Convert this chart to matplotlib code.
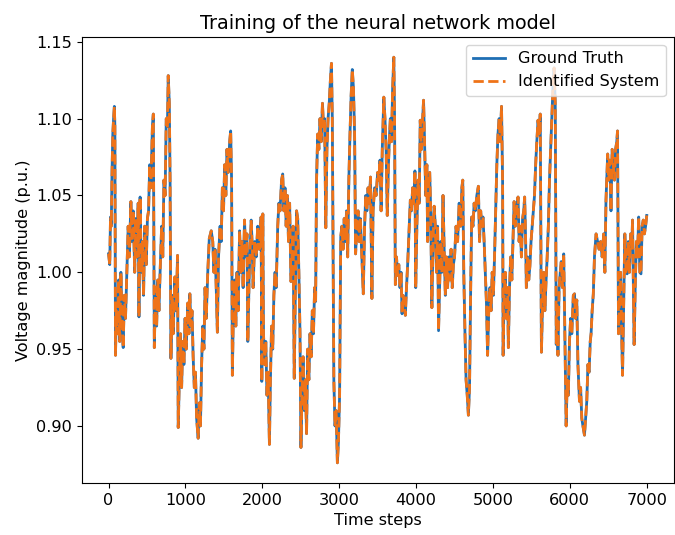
import numpy as np
import matplotlib
matplotlib.use("Agg")
import matplotlib.pyplot as plt

# Time steps and voltage magnitude (p.u.)
time_steps = [
    0, 15, 25, 35, 45, 55, 65, 75, 82, 90, 100, 115, 130, 145, 160, 175, 190, 205, 220, 240,
    255, 270, 290, 305, 320, 340, 355, 370, 385, 395, 410, 425, 440, 455, 470, 490, 505, 520, 535, 550,
    570, 582, 595, 610, 625, 640, 655, 670, 690, 705, 720, 735, 750, 765, 776, 790, 800, 811, 825, 840,
    862, 880, 897, 906, 920, 935, 950, 965, 980, 995, 1010, 1030, 1045, 1057, 1070, 1085, 1100, 1115, 1130, 1145,
    1165, 1180, 1195, 1210, 1225, 1240, 1255, 1270, 1290, 1310, 1335, 1355, 1370, 1385, 1400, 1415, 1430, 1450, 1465, 1480,
    1495, 1510, 1525, 1540, 1555, 1575, 1588, 1600, 1610, 1625, 1640, 1655, 1670, 1685, 1704, 1720, 1735, 1750, 1768, 1785,
    1800, 1811, 1830, 1855, 1870, 1880, 1900, 1920, 1940, 1960, 1984, 1993, 2006, 2015, 2030, 2045, 2060, 2075, 2092, 2105,
    2120, 2135, 2150, 2165, 2180, 2200, 2215, 2230, 2250, 2265, 2280, 2295, 2310, 2325, 2340, 2355, 2372, 2385, 2400, 2415,
    2430, 2445, 2460, 2475, 2490, 2502, 2515, 2530, 2545, 2560, 2575, 2590, 2605, 2620, 2635, 2650, 2665, 2680, 2693, 2705,
    2720, 2735, 2750, 2765, 2782, 2795, 2810, 2825, 2840, 2855, 2870, 2885, 2899, 2910, 2930, 2945, 2960, 2976, 2990, 3005,
    3020, 3035, 3050, 3065, 3080, 3095, 3110, 3125, 3140, 3155, 3170, 3185, 3200, 3213, 3230, 3245, 3260, 3275, 3290, 3313,
    3330, 3345, 3360, 3375, 3390, 3407, 3425, 3440, 3460, 3480, 3500, 3515, 3530, 3545, 3560, 3580, 3595, 3610, 3625, 3640,
    3655, 3665, 3680, 3695, 3710, 3720, 3730, 3745, 3760, 3775, 3790, 3805, 3817, 3830, 3845, 3860, 3875, 3890, 3910, 3925,
    3940, 3955, 3970, 3985, 3995, 4010, 4025, 4040, 4054, 4070, 4085, 4097, 4110, 4125, 4140, 4150, 4165, 4177, 4190, 4205,
    4220, 4235, 4250, 4265, 4280, 4292, 4305, 4320, 4335, 4350, 4365, 4380, 4395, 4410, 4425, 4440, 4455, 4470, 4485, 4500,
    4520, 4540, 4560, 4580, 4595, 4607, 4620, 4635, 4650, 4665, 4680, 4695, 4710, 4723, 4740, 4755, 4770, 4790, 4810, 4825,
    4840, 4855, 4870, 4885, 4900, 4915, 4930, 4945, 4960, 4975, 4990, 5005, 5020, 5035, 5050, 5065, 5080, 5095, 5111, 5125,
    5132, 5145, 5160, 5175, 5190, 5200, 5215, 5230, 5245, 5260, 5275, 5290, 5305, 5326, 5340, 5355, 5370, 5385, 5400, 5412,
    5425, 5434, 5450, 5465, 5480, 5495, 5510, 5525, 5540, 5555, 5570, 5586, 5600, 5615, 5630, 5645, 5660, 5675, 5690, 5705,
    5720, 5735, 5750, 5765, 5780, 5795, 5810, 5823, 5835, 5845, 5860, 5875, 5888, 5905, 5920, 5935, 5952, 5965, 5980, 5995,
    6010, 6025, 6045, 6060, 6075, 6090, 6105, 6125, 6140, 6155, 6170, 6190, 6205, 6220, 6235, 6250, 6265, 6276, 6290, 6305,
    6320, 6341, 6360, 6380, 6400, 6420, 6440, 6455, 6470, 6492, 6505, 6520, 6535, 6550, 6565, 6580, 6595, 6610, 6620, 6633,
    6645, 6660, 6672, 6685, 6700, 6715, 6730, 6745, 6760, 6775, 6790, 6805, 6815, 6836, 6850, 6865, 6880, 6895, 6910, 6925,
    6940, 6955, 6970, 6985, 7000,
]

ground_truth = [
    1.012, 1.005, 1.036, 1.030, 1.066, 1.090, 1.100, 1.108, 1.095, 0.946, 0.975, 0.960, 0.995, 0.955, 1.000, 0.970, 0.951, 0.985, 0.970, 1.005,
    1.030, 1.010, 1.046, 1.020, 1.040, 1.000, 1.035, 1.010, 1.045, 0.971, 1.049, 1.000, 1.020, 0.985, 1.030, 1.005, 1.035, 1.040, 1.070, 1.055,
    1.095, 1.103, 0.951, 0.990, 0.965, 0.995, 0.975, 1.000, 1.030, 1.010, 1.060, 1.050, 1.100, 1.095, 1.128, 1.110, 1.060, 0.944, 0.985, 0.960,
    0.997, 0.975, 1.011, 0.899, 0.930, 0.960, 0.925, 0.955, 0.940, 0.970, 0.950, 0.980, 0.960, 0.986, 0.965, 0.975, 0.945, 0.925, 0.935, 0.905,
    0.892, 0.915, 0.900, 0.940, 0.965, 0.950, 0.990, 0.970, 1.000, 1.022, 1.027, 1.020, 1.000, 1.015, 0.990, 0.961, 1.010, 1.030, 1.020, 1.055,
    1.040, 1.070, 1.050, 1.080, 1.065, 1.085, 1.092, 1.060, 0.933, 0.980, 0.995, 0.965, 1.000, 0.975, 1.027, 1.000, 1.020, 0.990, 1.034, 1.010,
    1.025, 0.955, 1.000, 1.034, 1.015, 0.990, 1.020, 1.010, 1.030, 1.015, 1.036, 0.929, 1.038, 0.960, 0.940, 0.955, 0.920, 0.935, 0.888, 0.930,
    0.965, 0.950, 0.985, 1.000, 0.990, 1.030, 1.045, 1.040, 1.060, 1.064, 1.040, 1.055, 1.030, 1.050, 1.020, 1.045, 0.994, 1.010, 1.030, 0.931,
    0.990, 1.040, 1.035, 1.000, 0.960, 0.886, 0.920, 0.945, 0.910, 0.930, 0.895, 0.950, 0.930, 0.960, 0.945, 0.975, 0.960, 0.990, 0.981, 1.060,
    1.090, 1.080, 1.100, 1.085, 1.110, 1.095, 1.100, 1.029, 1.080, 1.100, 1.110, 1.125, 1.136, 1.100, 0.930, 0.900, 0.910, 0.876, 0.890, 0.920,
    1.023, 1.030, 1.015, 1.035, 1.020, 1.040, 1.010, 1.060, 1.090, 1.115, 1.132, 1.120, 1.090, 1.012, 1.030, 1.040, 1.020, 1.035, 1.015, 0.986,
    1.030, 1.050, 1.040, 1.055, 1.045, 1.062, 0.983, 1.040, 1.055, 1.050, 1.065, 1.060, 1.073, 1.040, 1.080, 1.114, 1.100, 1.080, 1.037, 1.070,
    1.090, 1.100, 1.085, 1.120, 1.140, 1.100, 0.992, 1.010, 0.998, 1.005, 0.990, 1.000, 0.973, 0.985, 0.980, 0.972, 0.990, 1.005, 1.030, 1.047,
    1.040, 1.055, 1.045, 1.066, 0.990, 1.030, 1.060, 1.045, 1.099, 1.080, 1.100, 1.112, 1.085, 1.050, 1.070, 1.020, 1.060, 1.065, 1.040, 0.977,
    1.020, 1.043, 1.030, 1.000, 1.030, 0.962, 0.990, 1.020, 1.000, 1.050, 1.015, 0.985, 1.010, 0.990, 1.010, 0.995, 1.015, 0.990, 1.005, 1.010,
    1.030, 1.020, 1.045, 1.030, 1.055, 1.060, 1.000, 0.962, 0.930, 0.920, 0.907, 0.925, 0.990, 1.036, 1.030, 1.045, 1.040, 1.050, 1.056, 1.020,
    1.040, 1.030, 1.036, 1.020, 1.000, 0.980, 0.946, 0.975, 0.990, 0.975, 1.000, 0.985, 1.010, 1.040, 1.070, 1.090, 1.100, 1.085, 1.108, 1.060,
    0.946, 0.985, 1.000, 0.970, 0.990, 0.951, 0.990, 1.010, 0.995, 1.020, 1.046, 1.030, 1.040, 1.049, 1.020, 1.030, 1.010, 1.035, 1.040, 1.049,
    1.020, 0.990, 1.010, 0.995, 1.004, 1.020, 1.030, 1.040, 1.050, 1.070, 1.085, 1.099, 1.090, 1.103, 0.948, 0.980, 1.000, 0.975, 0.994, 1.010,
    1.030, 1.060, 1.080, 1.100, 1.120, 1.133, 1.110, 0.953, 0.980, 0.946, 0.990, 1.000, 1.007, 0.990, 1.012, 0.960, 0.900, 0.930, 0.920, 0.955,
    0.970, 0.960, 0.985, 0.986, 0.970, 0.982, 0.940, 0.916, 0.925, 0.905, 0.900, 0.894, 0.905, 0.916, 0.940, 0.935, 0.955, 0.960, 0.975, 0.986,
    1.010, 1.025, 1.020, 1.015, 1.020, 1.010, 1.025, 1.000, 1.047, 1.077, 1.060, 1.073, 1.040, 1.080, 1.070, 1.060, 1.080, 1.085, 1.092, 0.960,
    0.982, 1.000, 0.965, 0.933, 0.980, 1.025, 1.000, 0.999, 1.020, 1.000, 1.025, 1.015, 1.034, 0.953, 0.990, 1.020, 1.010, 1.036, 1.000, 0.999,
    1.030, 1.034, 1.025, 1.030, 1.037,
]

# the identified system follows the ground truth almost exactly
identified = list(ground_truth)

plt.rcParams['font.size'] = 11.6

fig, ax = plt.subplots(figsize=(6.75, 5.35), dpi=100)
fig.subplots_adjust(left=0.121, right=0.998, bottom=0.097, top=0.931)

ax.plot(time_steps, ground_truth, color='#1f6fb4', linewidth=2.0, label='Ground Truth')
ax.plot(time_steps, identified, color='#ef7318', linewidth=2.0, linestyle='--', label='Identified System')

ax.set_title('Training of the neural network model', fontsize=13.9)
ax.set_xlabel('Time steps')
ax.set_ylabel('Voltage magnitude (p.u.)')
ax.legend(loc='upper right')

fig.savefig('out.png', dpi=100)
